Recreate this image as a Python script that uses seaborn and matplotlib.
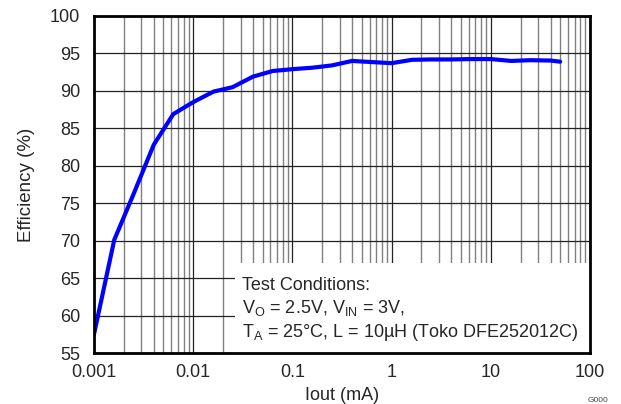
import matplotlib
matplotlib.use('Agg')
import matplotlib.pyplot as plt
import matplotlib.ticker as mticker
from matplotlib.patches import Rectangle
import seaborn as sns
import pandas as pd

iout_ma = [0.001, 0.0016, 0.0025, 0.004, 0.0063, 0.01, 0.016, 0.025, 0.04, 0.063,
           0.1, 0.16, 0.25, 0.4, 0.63, 1, 1.6, 2.5, 4, 6.3, 10, 16, 25, 40, 50]
efficiency = [57.5, 70.1, 76.2, 82.8, 86.9, 88.5, 89.9, 90.5, 91.9, 92.65,
              92.9, 93.1, 93.4, 94.0, 93.85, 93.7, 94.15, 94.2, 94.2, 94.25,
              94.25, 94.0, 94.1, 94.05, 93.9]
x_ticks = [0.001, 0.01, 0.1, 1, 10, 100]
x_tick_labels = ['0.001', '0.01', '0.1', '1', '10', '100']
y_ticks = [55, 60, 65, 70, 75, 80, 85, 90, 95, 100]

df = pd.DataFrame({'iout': iout_ma, 'eff': efficiency})

sns.set_style('white')
plt.rcParams['font.family'] = ['Liberation Sans', 'DejaVu Sans']
plt.rcParams['mathtext.fontset'] = 'custom'
plt.rcParams['mathtext.rm'] = 'Liberation Sans'

fig = plt.figure(figsize=(6.21, 4.04), dpi=100)
ax = fig.add_axes([94 / 621, 1 - 353 / 404, 496 / 621, 337 / 404])

sns.lineplot(data=df, x='iout', y='eff', ax=ax, color='#0000ff', linewidth=3, zorder=4)

ax.set_xscale('log')
ax.set_xlim(0.001, 100)
ax.set_ylim(55, 100)
ax.set_xticks(x_ticks)
ax.set_xticklabels(x_tick_labels)
ax.set_yticks(y_ticks)
ax.xaxis.set_minor_locator(mticker.LogLocator(base=10, subs=range(2, 10), numticks=20))
ax.xaxis.set_minor_formatter(mticker.NullFormatter())
ax.tick_params(which='both', length=0, labelsize=13)
ax.tick_params(axis='x', pad=8)
ax.tick_params(axis='y', pad=10)

ax.grid(True, which='major', axis='both', color='#222222', linewidth=0.9, zorder=1)
ax.grid(True, which='minor', axis='x', color='#808080', linewidth=1.0, zorder=1)
ax.set_axisbelow(True)

for s in ax.spines.values():
    s.set_linewidth(2)
    s.set_color('black')
    s.set_zorder(5)

# white panel behind the test conditions text
ax.add_patch(Rectangle((0.284, 0), 0.716, 0.267, transform=ax.transAxes,
                       facecolor='white', edgecolor='none', zorder=2))
ax.text(0.298, 0.188, 'Test Conditions:', transform=ax.transAxes, fontsize=13, zorder=3)
ax.text(0.298, 0.118, r'$\mathregular{V_O}$ = 2.5V, $\mathregular{V_{IN}}$ = 3V,',
        transform=ax.transAxes, fontsize=13, zorder=3)
ax.text(0.298, 0.047, r'$\mathregular{T_A}$ = 25°C, L = 10µH (Toko DFE252012C)',
        transform=ax.transAxes, fontsize=13, zorder=3)

ax.set_xlabel('Iout (mA)', fontsize=13, labelpad=4)
ax.set_ylabel('Efficiency (%)', fontsize=13.5, labelpad=11)

fig.text(598 / 621, 1 - 400 / 404, 'G000', fontsize=6, color='#444444', ha='center', va='center')

fig.savefig('out.png', dpi=100)
